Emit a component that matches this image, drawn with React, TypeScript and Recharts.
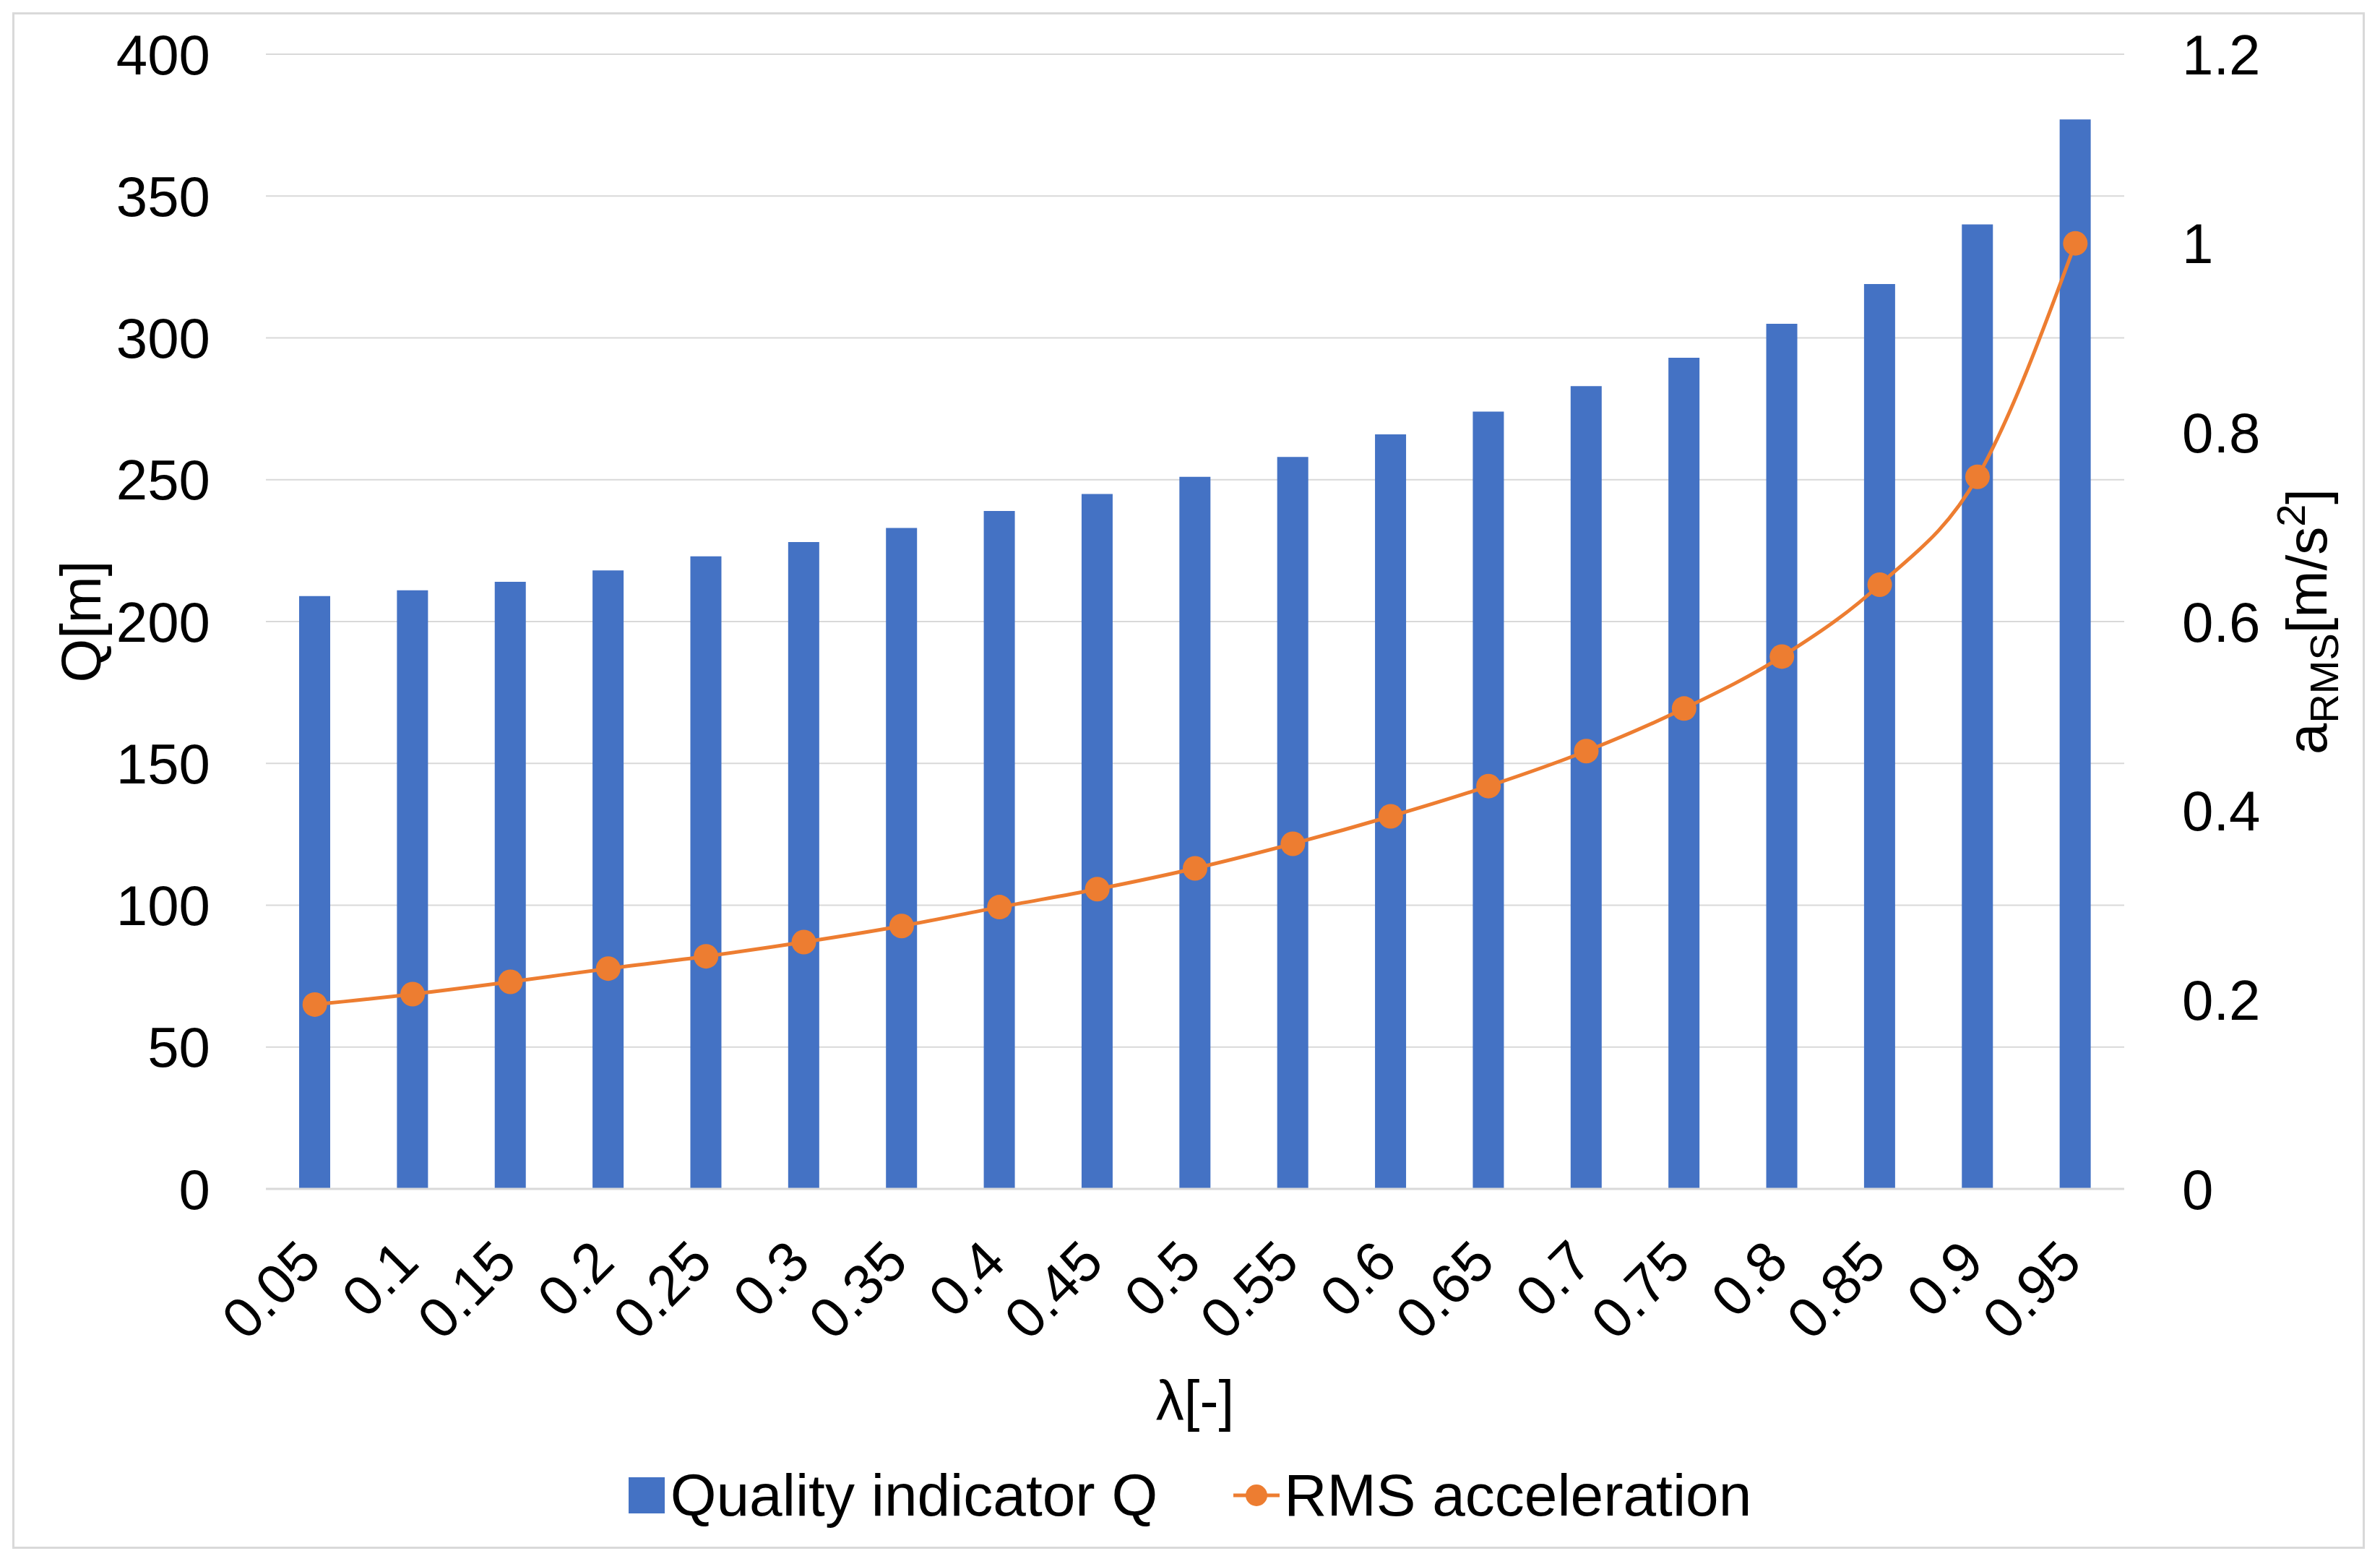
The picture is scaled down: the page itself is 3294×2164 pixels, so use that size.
import React from 'react';
import { ComposedChart, Bar, Line, XAxis, YAxis, CartesianGrid, Legend, Label } from 'recharts';

const lambdas = ['0.05', '0.1', '0.15', '0.2', '0.25', '0.3', '0.35', '0.4', '0.45', '0.5', '0.55', '0.6', '0.65', '0.7', '0.75', '0.8', '0.85', '0.9', '0.95'];
const qValues = [209, 211, 214, 218, 223, 228, 233, 239, 245, 251, 258, 266, 274, 283, 293, 305, 319, 340, 377];
const rmsValues = [0.195, 0.206, 0.219, 0.233, 0.246, 0.261, 0.278, 0.298, 0.317, 0.339, 0.365, 0.394, 0.426, 0.463, 0.508, 0.563, 0.639, 0.753, 1.0];
const qTicks = [0, 50, 100, 150, 200, 250, 300, 350, 400];
const rmsTicks = [0, 0.2, 0.4, 0.6, 0.8, 1, 1.2];

const data = lambdas.map((l, i) => ({ lambda: l, q: qValues[i], rms: rmsValues[i] }));

const FONT = "'Liberation Sans', Arial, sans-serif";
const BLUE = '#4472C4';
const ORANGE = '#ED7D31';
const GRID = '#D9D9D9';
const W = 3278;
const H = 2148;
const FS = 78;

const XTick = ({ x, y, payload }: any) => (
  <text
    x={x + 12}
    y={y + 105}
    transform={`rotate(-45, ${x + 12}, ${y + 105})`}
    textAnchor="end"
    fontFamily={FONT}
    fontSize={FS}
    fill="#000"
  >
    {payload.value}
  </text>
);

const LeftLabel = ({ viewBox }: any) => {
  const cx = viewBox.x + 103;
  const cy = viewBox.y + viewBox.height / 2;
  return (
    <text x={cx} y={cy} dy="0.355em" transform={`rotate(-90, ${cx}, ${cy})`} textAnchor="middle" fontFamily={FONT} fontSize={FS} fill="#000">
      Q[m]
    </text>
  );
};

const RightLabel = ({ viewBox }: any) => {
  const cx = viewBox.x + 252;
  const cy = viewBox.y + viewBox.height / 2;
  return (
    <text x={cx} y={cy} dy="0.355em" transform={`rotate(-90, ${cx}, ${cy})`} textAnchor="middle" fontFamily={FONT} fontSize={FS} fill="#000">
      <tspan>a</tspan>
      <tspan dy={16} fontSize={56}>RMS</tspan>
      <tspan dy={-16}>[m/s</tspan>
      <tspan dy={-30} fontSize={56}>2</tspan>
      <tspan dy={30}>]</tspan>
    </text>
  );
};

const XLabel = ({ viewBox }: any) => (
  <text x={viewBox.x + viewBox.width / 2} y={viewBox.y + 292} dy="0.355em" textAnchor="middle" fontFamily={FONT} fontSize={FS} fill="#000">
    λ[-]
  </text>
);

const renderLegend = () => (
  <div style={{ display: 'flex', justifyContent: 'center', alignItems: 'center', height: 174, fontFamily: FONT, fontSize: 82, color: '#000' }}>
    <span style={{ display: 'inline-block', width: 50, height: 50, background: BLUE, marginRight: 8 }} />
    <span>Quality indicator Q</span>
    <svg width={64} height={40} style={{ marginLeft: 105, marginRight: 6 }}>
      <line x1={0} y1={20} x2={64} y2={20} stroke={ORANGE} strokeWidth={5} />
      <circle cx={32} cy={20} r={15} fill={ORANGE} />
    </svg>
    <span>RMS acceleration</span>
  </div>
);

export default function App() {
  return (
    <div style={{ position: 'relative', width: W, height: H, background: '#fff' }}>
      <div style={{ position: 'absolute', left: 9, top: 9, width: 3256, height: 2126, border: `3px solid ${GRID}`, boxSizing: 'border-box' }} />
      <ComposedChart width={W} height={H} data={data} margin={{ top: 67, right: 0, bottom: 0, left: 0 }}>
        <CartesianGrid yAxisId="left" vertical={false} stroke={GRID} strokeWidth={2} />
        <XAxis
          dataKey="lambda"
          height={337}
          interval={0}
          tickLine={false}
          tickSize={0}
          tickMargin={0}
          axisLine={{ stroke: GRID, strokeWidth: 3 }}
          tick={<XTick />}
        >
          <Label content={<XLabel />} />
        </XAxis>
        <YAxis
          yAxisId="left"
          width={360}
          domain={[0, 400]}
          ticks={qTicks}
          axisLine={false}
          tickLine={false}
          tickSize={0}
          tickMargin={77}
          tick={{ fontFamily: FONT, fontSize: FS, fill: '#000' }}
        >
          <Label content={<LeftLabel />} />
        </YAxis>
        <YAxis
          yAxisId="right"
          orientation="right"
          width={346}
          domain={[0, 1.2]}
          ticks={rmsTicks}
          axisLine={false}
          tickLine={false}
          tickSize={0}
          tickMargin={80}
          tick={{ fontFamily: FONT, fontSize: FS, fill: '#000', textAnchor: 'start' }}
        >
          <Label content={<RightLabel />} />
        </YAxis>
        <Legend verticalAlign="bottom" height={174} content={renderLegend} />
        <Bar yAxisId="left" dataKey="q" name="Quality indicator Q" fill={BLUE} barSize={43} isAnimationActive={false} />
        <Line
          yAxisId="right"
          type="monotone"
          dataKey="rms"
          name="RMS acceleration"
          stroke={ORANGE}
          strokeWidth={5}
          dot={{ r: 17, fill: ORANGE, stroke: 'none' }}
          activeDot={false}
          isAnimationActive={false}
        />
      </ComposedChart>
    </div>
  );
}
